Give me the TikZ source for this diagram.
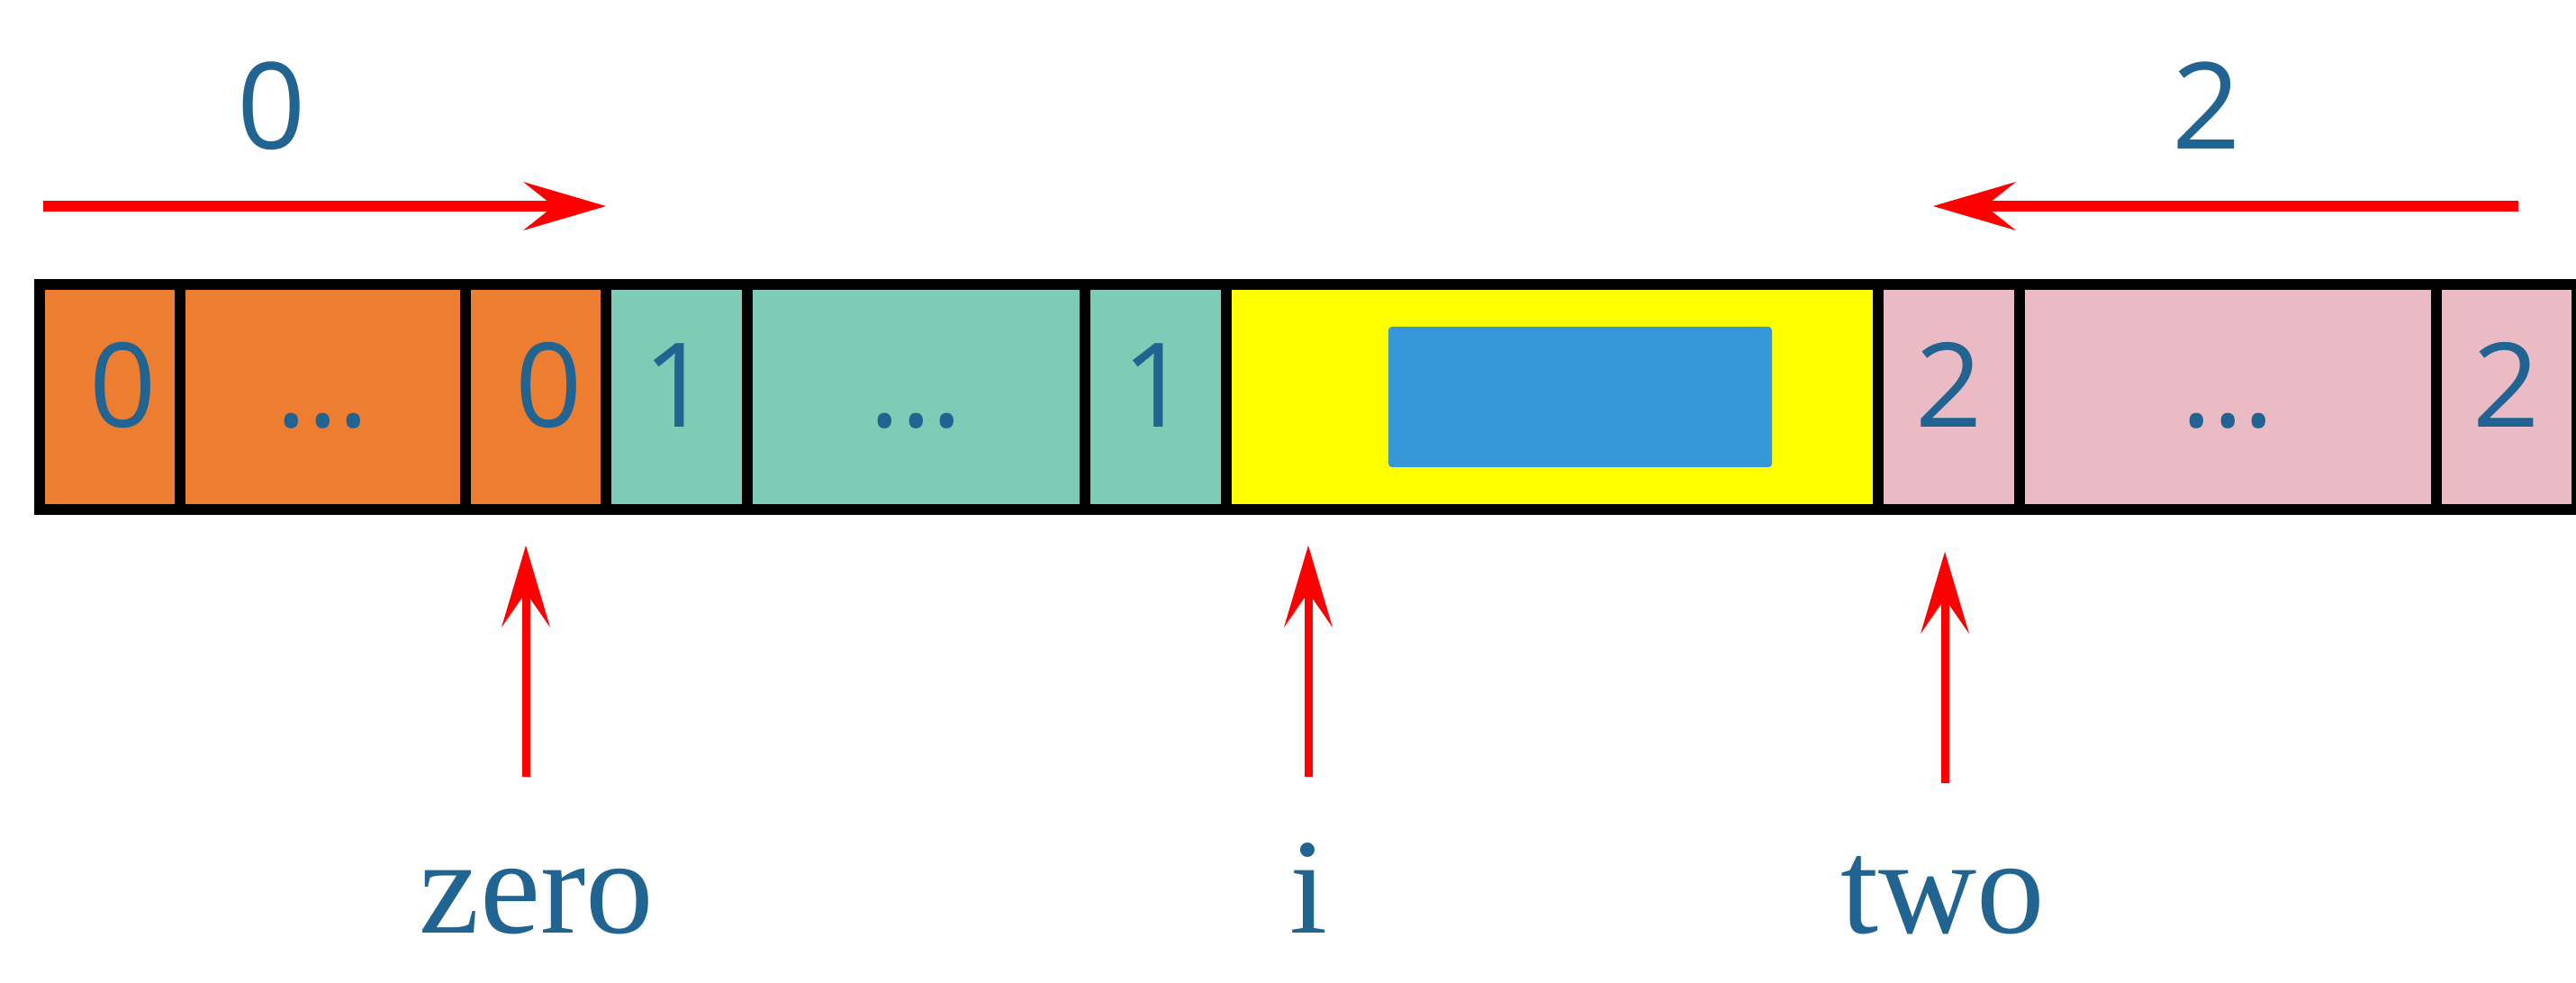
\documentclass[tikz,border=0pt]{standalone}
\usepackage{fontspec}
\setmainfont{Liberation Serif}
\newfontfamily\digitfont{Open Sans}
\usepackage{tikz}
\usetikzlibrary{arrows.meta}
\definecolor{cellorange}{RGB}{237,125,49}
\definecolor{cellteal}{RGB}{127,204,182}
\definecolor{cellyellow}{RGB}{255,255,0}
\definecolor{cellpink}{RGB}{235,187,197}
\definecolor{valblue}{RGB}{55,152,217}
\definecolor{textblue}{RGB}{33,99,145}
\tikzset{
  cell/.style={rectangle, draw=black, line width=0.12cm, inner sep=0pt,
    minimum height=2.5cm, text height=0.95cm, text depth=0.27cm,
    text=textblue, font=\digitfont\fontsize{37}{40}\selectfont},
  digitlabel/.style={text=textblue, inner sep=0pt, anchor=base,
    font=\digitfont\fontsize{38}{42}\selectfont},
  wordlabel/.style={text=textblue, inner sep=0pt, anchor=base,
    font=\fontsize{43}{46}\selectfont},
  sweep/.style={draw=red, line width=0.115cm,
    -{Stealth[length=0.92cm, width=0.54cm, inset=0.34cm, line width=0pt]}},
  pointer/.style={draw=red, line width=0.09cm,
    -{Stealth[length=0.91cm, width=0.54cm, inset=0.39cm, line width=0pt]}}
}

\begin{document}
\begin{tikzpicture}
\useasboundingbox (0,0) rectangle (28.61,10.91);
\coordinate (ls) at (0.48,8.62);
\coordinate (le) at (6.73,8.62);
\coordinate (rs) at (27.97,8.62);
\coordinate (re) at (21.47,8.62);
\coordinate (zt) at (5.84,2.28);
\coordinate (zh) at (5.84,4.85);
\coordinate (it) at (14.53,2.28);
\coordinate (ih) at (14.53,4.85);
\coordinate (tt) at (21.60,2.21);
\coordinate (th) at (21.60,4.78);
% draws cells
\node[cell, fill=cellorange, minimum width=1.56cm] (z1) at (1.22,6.5) {\hspace{0.3cm}0};
\node[cell, fill=cellorange, minimum width=3.17cm] (z2) at (3.585,6.5) {...};
\node[cell, fill=cellorange, minimum width=1.56cm] (z3) at (5.95,6.5) {\hspace{0.3cm}0};
\node[cell, fill=cellteal, minimum width=1.57cm] (o1) at (7.515,6.5) {1};
\node[cell, fill=cellteal, minimum width=3.75cm] (o2) at (10.175,6.5) {...};
\node[cell, fill=cellteal, minimum width=1.57cm] (o3) at (12.835,6.5) {1};
\node[cell, fill=cellyellow, minimum width=7.24cm] (cur) at (17.24,6.5) {};
\node[cell, fill=cellpink, minimum width=1.57cm] (t1) at (21.645,6.5) {2};
\node[cell, fill=cellpink, minimum width=4.63cm] (t2) at (24.745,6.5) {...};
\node[cell, fill=cellpink, minimum width=1.56cm] (t3) at (27.84,6.5) {2};
\node[fill=valblue, rounded corners=0.04cm, inner sep=0pt,
  minimum width=4.26cm, minimum height=1.56cm] (val) at (17.55,6.5) {};
% labels
\node[digitlabel] (lz) at (3.02,9.25) {0};
\node[digitlabel] (lt) at (24.51,9.25) {2};
\node[wordlabel] (zero) at (5.96,0.55) {zero};
\node[wordlabel] (i) at (14.53,0.55) {i};
\node[wordlabel] (two) at (21.58,0.55) {two};
% draws arrows
\draw[sweep] (ls) -- (le);
\draw[sweep] (rs) -- (re);
\draw[pointer] (zt) -- (zh);
\draw[pointer] (it) -- (ih);
\draw[pointer] (tt) -- (th);
\end{tikzpicture}
\end{document}
